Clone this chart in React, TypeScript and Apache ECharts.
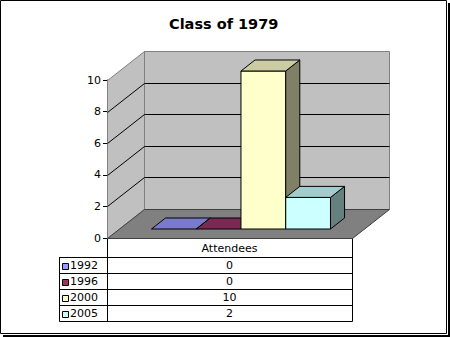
import React, { useEffect, useRef } from "react";
import * as echarts from "echarts";

// ---- data ----
const categories = ["Attendees"];
const years = ["1992", "1996", "2000", "2005"];
const attendees = [0, 0, 10, 2];
const seriesColors = ["#9999ff", "#993366", "#ffffcc", "#ccffff"];
const yMin = 0;
const yMax = 10;
const yInterval = 2;
const gridValues = [2, 4, 6, 8];

// ---- layout constants ----
const W = 450;
const H = 337;
const GRID_LEFT = 107;
const GRID_RIGHT = 352;
const GRID_TOP = 80;
const GRID_BOTTOM = 238;
const DX = 37; // depth offset (front -> back)
const DY = -29;
const FRONT_F = 0.31; // bar front face depth fraction
const BACK_F = 0.69; // bar back face depth fraction
const BAR_FRAC = 0.1827; // bar width as fraction of category band
const FONT = "DejaVu Sans";

const HEADER_H = 19;
const ROW_H = 16;
const LEGEND_LEFT = 59;

function shade(hex: string, k: number) {
  const n = parseInt(hex.slice(1), 16);
  const r = Math.round(((n >> 16) & 255) * k);
  const g = Math.round(((n >> 8) & 255) * k);
  const b = Math.round((n & 255) * k);
  return "rgb(" + r + "," + g + "," + b + ")";
}
const px = (v: number) => Math.round(v) + 0.5;

function renderWalls(params: any, api: any) {
  const cs = params.coordSys;
  const xL = px(cs.x);
  const xR = px(cs.x + cs.width);
  const y0 = px(api.coord([0, yMin])[1]);
  const yT = px(api.coord([0, yMax])[1]);
  const children: any[] = [];
  children.push({
    type: "polygon",
    shape: { points: [[xL, y0], [xL, yT], [xL + DX, yT + DY], [xL + DX, y0 + DY]] },
    style: { fill: "#c0c0c0", stroke: "#808080", lineWidth: 1 },
  });
  children.push({
    type: "polygon",
    shape: { points: [[xL + DX, yT + DY], [xR + DX, yT + DY], [xR + DX, y0 + DY], [xL + DX, y0 + DY]] },
    style: { fill: "#c0c0c0", stroke: "#808080", lineWidth: 1 },
  });
  children.push({
    type: "polygon",
    shape: { points: [[xL, y0], [xR, y0], [xR + DX, y0 + DY], [xL + DX, y0 + DY]] },
    style: { fill: "#808080", stroke: "#404040", lineWidth: 1 },
  });
  gridValues.forEach((v) => {
    const y = px(api.coord([0, v])[1]);
    children.push({
      type: "polyline",
      shape: { points: [[xL, y], [xL + DX, y + DY], [xR + DX, y + DY]] },
      style: { stroke: "#000", lineWidth: 1, fill: "none" },
    });
  });
  return { type: "group", children };
}

function makeBar(i: number) {
  return (params: any, api: any) => {
    const base = api.coord([0, 0]);
    const top = api.coord([0, api.value(1)]);
    const band = api.size([1, 0])[0];
    const w = band * BAR_FRAC;
    const x0 = base[0] + (i - 2) * w;
    const yb = base[1];
    const yt = top[1];
    const ox0 = DX * FRONT_F, oy0 = DY * FRONT_F;
    const ox1 = DX * BACK_F, oy1 = DY * BACK_F;
    const c = seriesColors[i];
    const stroke = { stroke: "#000", lineWidth: 1 };
    const children: any[] = [];
    const h = yb - yt;
    if (h > 0.5) {
      children.push({
        type: "polygon",
        shape: { points: [[x0 + ox0, yb + oy0], [x0 + w + ox0, yb + oy0], [x0 + w + ox0, yt + oy0], [x0 + ox0, yt + oy0]] },
        style: { fill: c, ...stroke },
      });
      children.push({
        type: "polygon",
        shape: { points: [[x0 + w + ox0, yb + oy0], [x0 + w + ox1, yb + oy1], [x0 + w + ox1, yt + oy1], [x0 + w + ox0, yt + oy0]] },
        style: { fill: shade(c, 0.5), ...stroke },
      });
    }
    children.push({
      type: "polygon",
      shape: { points: [[x0 + ox0, yt + oy0], [x0 + w + ox0, yt + oy0], [x0 + w + ox1, yt + oy1], [x0 + ox1, yt + oy1]] },
      style: { fill: shade(c, 0.8), ...stroke },
    });
    return { type: "group", children };
  };
}

function buildTable() {
  const els: any[] = [];
  const top = GRID_BOTTOM;
  const rowsTop = top + HEADER_H;
  const bottom = rowsTop + ROW_H * years.length;
  const lineStyle = { stroke: "#000", lineWidth: 1 };
  els.push({ type: "line", shape: { x1: px(GRID_LEFT), y1: top, x2: px(GRID_LEFT), y2: bottom + 0.5 }, style: lineStyle });
  els.push({ type: "line", shape: { x1: px(GRID_RIGHT), y1: top, x2: px(GRID_RIGHT), y2: bottom + 0.5 }, style: lineStyle });
  els.push({ type: "line", shape: { x1: px(LEGEND_LEFT), y1: rowsTop, x2: px(LEGEND_LEFT), y2: bottom + 0.5 }, style: lineStyle });
  for (let r = 0; r <= years.length; r++) {
    const y = px(rowsTop + r * ROW_H);
    els.push({ type: "line", shape: { x1: px(LEGEND_LEFT), y1: y, x2: px(GRID_RIGHT), y2: y }, style: lineStyle });
  }
  const cx = (GRID_LEFT + GRID_RIGHT) / 2;
  years.forEach((yr, r) => {
    const cy = rowsTop + r * ROW_H + ROW_H / 2 + 0.5;
    els.push({
      type: "rect",
      shape: { x: 62.5, y: Math.round(cy - 3) + 0.5, width: 6, height: 6 },
      style: { fill: seriesColors[r], stroke: "#000", lineWidth: 1 },
    });
    els.push({
      type: "text",
      x: 70,
      y: cy,
      style: { text: yr, fontSize: 11, fontFamily: FONT, fill: "#000", textVerticalAlign: "middle", textAlign: "left" },
    });
    els.push({
      type: "text",
      x: cx,
      y: cy,
      style: { text: String(attendees[r]), fontSize: 11, fontFamily: FONT, fill: "#000", textVerticalAlign: "middle", textAlign: "center" },
    });
  });
  els.push({ type: "rect", shape: { x: 0.5, y: 0.5, width: 446, height: 333 }, style: { fill: "none", stroke: "#000", lineWidth: 1 } });
  els.push({ type: "rect", shape: { x: 448, y: 3, width: 2, height: 334 }, style: { fill: "#000" } });
  els.push({ type: "rect", shape: { x: 3, y: 335, width: 447, height: 2 }, style: { fill: "#000" } });
  return els;
}

export default function App() {
  const ref = useRef<HTMLDivElement>(null);
  useEffect(() => {
    if (!ref.current) return;
    const chart = echarts.init(ref.current, null, { renderer: "svg" });
    const option: any = {
      animation: false,
      backgroundColor: "#ffffff",
      title: {
        text: "Class of 1979",
        left: 164,
        top: 11,
        textStyle: { fontFamily: FONT, fontWeight: "bold", fontSize: 14.5, color: "#000" },
      },
      grid: { left: GRID_LEFT, right: W - GRID_RIGHT, top: GRID_TOP, bottom: H - GRID_BOTTOM, containLabel: false },
      xAxis: {
        type: "category",
        data: categories,
        axisLine: { show: true, lineStyle: { color: "#000", width: 1 } },
        axisTick: { show: false },
        axisLabel: { margin: 5, fontSize: 11, fontFamily: FONT, color: "#000" },
        splitLine: { show: false },
      },
      yAxis: {
        type: "value",
        min: yMin,
        max: yMax,
        interval: yInterval,
        axisLine: { show: true, lineStyle: { color: "#000", width: 1 } },
        axisTick: { show: true, length: 4, lineStyle: { color: "#000" } },
        axisLabel: { margin: 6, fontSize: 11, fontFamily: FONT, color: "#000" },
        splitLine: { show: false },
      },
      graphic: buildTable(),
      series: [
        {
          type: "custom",
          name: "walls",
          clip: false,
          silent: true,
          z: 1,
          data: [[0, 0]],
          encode: { x: 0, y: 1 },
          renderItem: renderWalls,
        },
        ...years.map((yr, i) => ({
          type: "custom",
          name: yr,
          clip: false,
          z: 2,
          data: [[0, attendees[i]]],
          encode: { x: 0, y: 1 },
          renderItem: makeBar(i),
        })),
      ],
    };
    chart.setOption(option);
    return () => chart.dispose();
  }, []);
  return <div ref={ref} style={{ position: "fixed", left: 0, top: 0, width: W, height: H }} />;
}
